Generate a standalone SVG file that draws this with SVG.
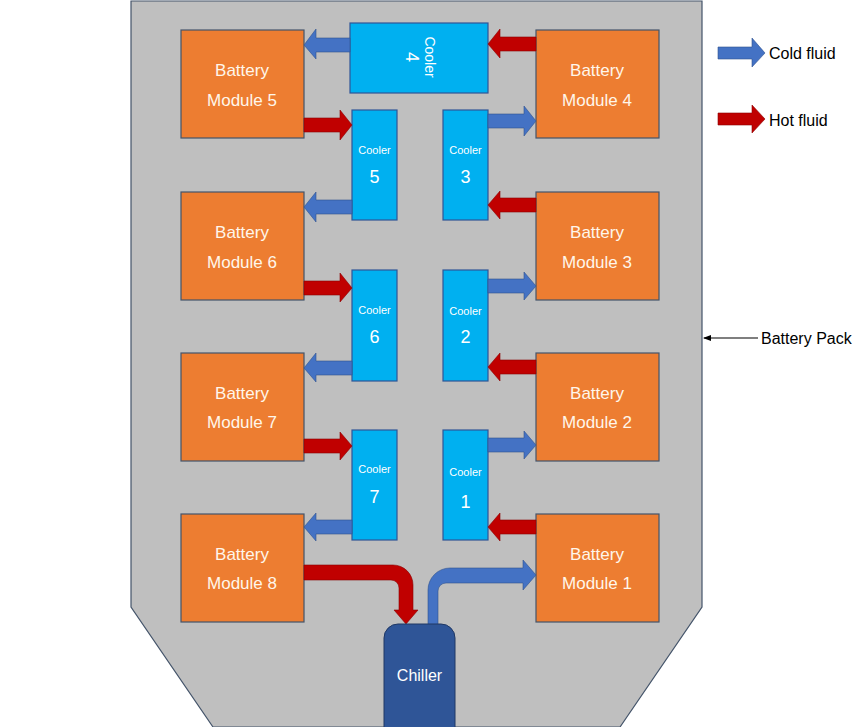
<svg xmlns="http://www.w3.org/2000/svg" width="865" height="727" viewBox="0 0 865 727">
<defs>
<style>
.pack{fill:#BFBFBF;stroke:#44546A;stroke-width:1.2}
.mod{fill:#ED7D31;stroke:#44546A;stroke-width:1.2}
.cool{fill:#00B0F0;stroke:#2F5597;stroke-width:1.2}
.cold{fill:#4472C4;stroke:#2F528F;stroke-width:0.6}
.hot{fill:#C00000;stroke:#8B0000;stroke-width:0.6}
.mt{font-family:"Liberation Sans",Arial,sans-serif;font-size:17px;fill:#FFF6EA;text-anchor:middle}
.ct{font-family:"Liberation Sans",Arial,sans-serif;font-size:11px;fill:#FFFFFF;text-anchor:middle}
.cn{font-family:"Liberation Sans",Arial,sans-serif;font-size:18px;fill:#FFFFFF;text-anchor:middle}
.lt{font-family:"Liberation Sans",Arial,sans-serif;font-size:16px;fill:#000000}
</style>
<marker id="ah" markerWidth="8" markerHeight="6" refX="7" refY="3" orient="auto" markerUnits="userSpaceOnUse">
<path d="M0,0 L8,3 L0,6 Z" fill="#000"/>
</marker>
</defs>
<g id="pack">
<polygon class="pack" points="131,1 702,1 702,607 620,727 213,727 131,607"/>
</g>
<g id="module5"><rect class="mod" x="181" y="30" width="123" height="108"/><text class="mt" x="242" y="76">Battery</text><text class="mt" x="242" y="106">Module 5</text></g>
<g id="module6"><rect class="mod" x="181" y="192" width="123" height="108"/><text class="mt" x="242" y="238">Battery</text><text class="mt" x="242" y="268">Module 6</text></g>
<g id="module7"><rect class="mod" x="181" y="353" width="123" height="108"/><text class="mt" x="242" y="399">Battery</text><text class="mt" x="242" y="428">Module 7</text></g>
<g id="module8"><rect class="mod" x="181" y="514" width="123" height="108"/><text class="mt" x="242" y="560">Battery</text><text class="mt" x="242" y="589">Module 8</text></g>
<g id="module4"><rect class="mod" x="536" y="30" width="123" height="108"/><text class="mt" x="597" y="76">Battery</text><text class="mt" x="597" y="106">Module 4</text></g>
<g id="module3"><rect class="mod" x="536" y="192" width="123" height="108"/><text class="mt" x="597" y="238">Battery</text><text class="mt" x="597" y="268">Module 3</text></g>
<g id="module2"><rect class="mod" x="536" y="353" width="123" height="108"/><text class="mt" x="597" y="399">Battery</text><text class="mt" x="597" y="428">Module 2</text></g>
<g id="module1"><rect class="mod" x="536" y="514" width="123" height="108"/><text class="mt" x="597" y="560">Battery</text><text class="mt" x="597" y="589">Module 1</text></g>
<g id="cooler4"><rect class="cool" x="350" y="23" width="138" height="70"/><g transform="translate(425,57) rotate(90)"><text class="ct" x="0" y="0" style="font-size:14px">Cooler</text><text class="cn" x="0" y="19">4</text></g></g>
<g id="cooler5"><rect class="cool" x="352" y="110" width="45" height="110"/><text class="ct" x="374.5" y="154">Cooler</text><text class="cn" x="374.5" y="183">5</text></g>
<g id="cooler3"><rect class="cool" x="443" y="110" width="45" height="110"/><text class="ct" x="465.5" y="154">Cooler</text><text class="cn" x="465.5" y="183">3</text></g>
<g id="cooler6"><rect class="cool" x="352" y="270" width="45" height="111"/><text class="ct" x="374.5" y="314">Cooler</text><text class="cn" x="374.5" y="343">6</text></g>
<g id="cooler2"><rect class="cool" x="443" y="270" width="45" height="111"/><text class="ct" x="465.5" y="315">Cooler</text><text class="cn" x="465.5" y="343">2</text></g>
<g id="cooler7"><rect class="cool" x="352" y="430" width="45" height="110"/><text class="ct" x="374.5" y="473">Cooler</text><text class="cn" x="374.5" y="503">7</text></g>
<g id="cooler1"><rect class="cool" x="443" y="430" width="45" height="110"/><text class="ct" x="465.5" y="476">Cooler</text><text class="cn" x="465.5" y="508">1</text></g>
<g id="connectors">
<path class="cold" d="M350,38 H316 V29 L304,45 L316,59 V52 H350 Z"/>
<path class="hot" d="M536,37 H500 V29 L488,44 L500,58 V51 H536 Z"/>
<path class="hot" d="M304,118 H340 V110 L352,125 L340,140 V132 H304 Z"/>
<path class="cold" d="M488,114 H524 V106 L536,121 L524,136 V128 H488 Z"/>
<path class="cold" d="M352,200 H316 V192 L304,207 L316,222 V214 H352 Z"/>
<path class="hot" d="M536,198 H500 V191 L488,205 L500,219 V212 H536 Z"/>
<path class="hot" d="M304,281 H340 V273 L352,288 L340,302 V295 H304 Z"/>
<path class="cold" d="M488,279 H524 V272 L536,286 L524,300 V293 H488 Z"/>
<path class="cold" d="M352,361 H316 V353 L304,368 L316,382 V375 H352 Z"/>
<path class="hot" d="M536,360 H500 V353 L488,367 L500,381 V374 H536 Z"/>
<path class="hot" d="M304,439 H340 V432 L352,446 L340,460 V453 H304 Z"/>
<path class="cold" d="M488,438 H524 V431 L536,445 L524,459 V452 H488 Z"/>
<path class="cold" d="M352,520 H316 V513 L304,527 L316,541 V534 H352 Z"/>
<path class="hot" d="M536,520 H500 V513 L488,527 L500,541 V534 H536 Z"/>
<path class="hot" d="M304,565 H393 A20,20 0 0 1 413,585 V610 H418 L406,624 L394,610 H399 V588 A8,8 0 0 0 391,580 H304 Z"/>
<path class="cold" d="M428,626 V590 A22,22 0 0 1 450,568 H523 V560 L536,575 L523,590 V583 H446 A8,8 0 0 0 438,591 V626 Z"/>
<line x1="758" y1="338" x2="704" y2="338" stroke="#000" stroke-width="1.2" marker-end="url(#ah)"/>
</g>
<g id="chiller"><rect x="384" y="624" width="71" height="120" rx="14" fill="#2F5597" stroke="#203864" stroke-width="1"/><text x="419.5" y="681" font-family="Liberation Sans, Arial, sans-serif" font-size="16" fill="#FFFFFF" text-anchor="middle">Chiller</text></g>
<g id="legend">
<path class="cold" d="M718,47 H752 V38 L765,53 L752,67 V59 H718 Z"/>
<text class="lt" x="769" y="59">Cold fluid</text>
<path class="hot" d="M718,113 H752 V105 L765,119 L752,133 V125 H718 Z"/>
<text class="lt" x="769" y="126">Hot fluid</text>
<text class="lt" x="761" y="344">Battery Pack</text>
</g>
</svg>
